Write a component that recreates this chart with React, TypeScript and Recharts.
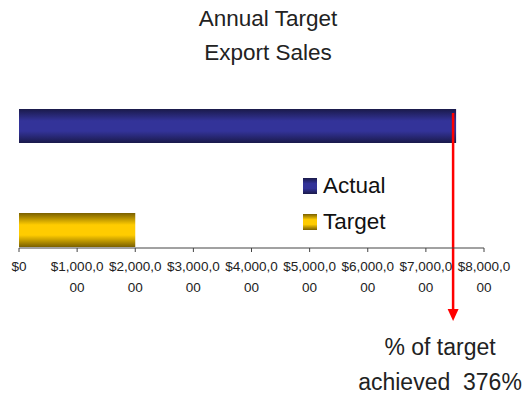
import React from 'react';
import { BarChart, Bar, XAxis, YAxis, ReferenceLine } from 'recharts';

const categories = ['Actual', 'Target'];
const actualValues = [7520000, null];
const targetValues = [null, 2000000];
const tickValues = [0, 1000000, 2000000, 3000000, 4000000, 5000000, 6000000, 7000000, 8000000];
const titleLines = ['Annual Target', 'Export Sales'];
const pctAchieved = 376;

const data = categories.map((c, i) => ({ name: c, actual: actualValues[i], target: targetValues[i] }));

const FONT = 'Liberation Sans, Arial, sans-serif';

const Tick = (props: any) => {
  const { x, y, payload } = props;
  const s = '$' + Number(payload.value).toLocaleString('en-US');
  const l1 = s.slice(0, 8);
  const l2 = s.slice(8);
  return (
    <g>
      <text x={x} y={y + 17} textAnchor="middle" fontSize={13.5} fontFamily={FONT} fill="#222">{l1}</text>
      {l2 && <text x={x} y={y + 38} textAnchor="middle" fontSize={13.5} fontFamily={FONT} fill="#222">{l2}</text>}
    </g>
  );
};

const Arrow = (props: any) => {
  const { x1, y1, y2 } = props;
  const yTop = Math.min(y1, y2) + 5;
  const yEnd = Math.max(y1, y2) + 73;
  return (
    <g>
      <line x1={x1 - 3} y1={yTop} x2={x1 - 3} y2={yEnd - 6} stroke="#ff0000" strokeWidth={2.5} />
      <path d={`M${x1 - 8.5},${yEnd - 12} L${x1 + 2.5},${yEnd - 12} L${x1 - 3},${yEnd} Z`} fill="#ff0000" />
    </g>
  );
};

const LegendSwatch = ({ id }: { id: string }) => (
  <svg width={14} height={16} style={{ display: 'block' }}>
    <rect x={0} y={0} width={14} height={16} fill={`url(#${id})`} />
  </svg>
);

export default function App() {
  return (
    <div style={{ position: 'absolute', left: 0, top: 0, width: 526, height: 396, background: '#fff', fontFamily: FONT }}>
      <svg width={0} height={0} style={{ position: 'absolute' }}>
        <defs>
          <linearGradient id="gActual" x1="0" y1="0" x2="0" y2="1">
            <stop offset="0%" stopColor="#1a1a4a" />
            <stop offset="35%" stopColor="#333399" />
            <stop offset="65%" stopColor="#333399" />
            <stop offset="100%" stopColor="#1a1a4a" />
          </linearGradient>
          <linearGradient id="gTarget" x1="0" y1="0" x2="0" y2="1">
            <stop offset="0%" stopColor="#7a6000" />
            <stop offset="35%" stopColor="#ffcc00" />
            <stop offset="65%" stopColor="#ffcc00" />
            <stop offset="100%" stopColor="#7a6000" />
          </linearGradient>
        </defs>
      </svg>
      <BarChart
        width={526}
        height={396}
        data={data}
        layout="vertical"
        margin={{ top: 108, right: 42, bottom: 118, left: 19 }}
        barGap={0}
        barCategoryGap={1}
      >
        <XAxis
          type="number"
          domain={[0, 8000000]}
          ticks={tickValues}
          interval={0}
          height={30}
          stroke="#444"
          tickSize={4}
          tick={<Tick />}
        />
        <YAxis type="category" dataKey="name" hide width={0} />
        <Bar dataKey="actual" fill="url(#gActual)" isAnimationActive={false} />
        <Bar dataKey="target" fill="url(#gTarget)" isAnimationActive={false} />
        <ReferenceLine x={actualValues[0] as number} shape={<Arrow />} ifOverflow="visible" />
      </BarChart>
      <div style={{ position: 'absolute', left: 0, top: 2, width: 536, textAlign: 'center', fontSize: 22.5, lineHeight: '34px', color: '#222' }}>
        {titleLines.map((t) => <div key={t}>{t}</div>)}
      </div>
      <div style={{ position: 'absolute', left: 303, top: 171, fontSize: 22.5, color: '#111' }}>
        <div style={{ display: 'flex', alignItems: 'center', height: 30 }}>
          <LegendSwatch id="gActual" /><span style={{ marginLeft: 6 }}>Actual</span>
        </div>
        <div style={{ display: 'flex', alignItems: 'center', height: 42 }}>
          <LegendSwatch id="gTarget" /><span style={{ marginLeft: 6 }}>Target</span>
        </div>
      </div>
      <div style={{ position: 'absolute', left: 340, top: 330, width: 200, textAlign: 'center', fontSize: 23, lineHeight: '35px', color: '#222', whiteSpace: 'pre' }}>
        <div>% of target</div>
        <div>{`achieved  ${pctAchieved}%`}</div>
      </div>
    </div>
  );
}
